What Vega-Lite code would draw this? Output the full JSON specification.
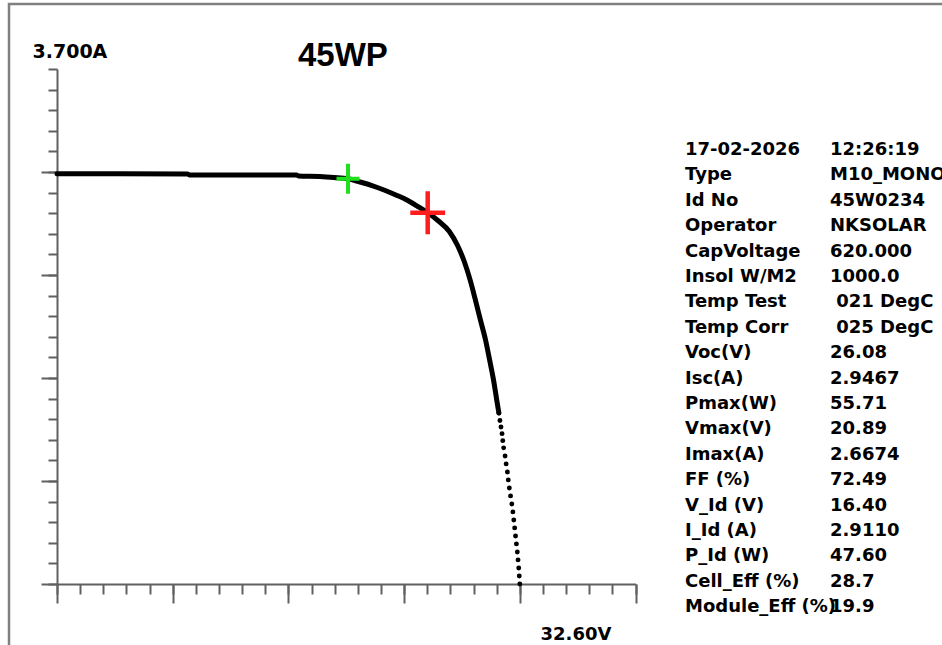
{
  "$schema": "https://vega.github.io/schema/vega-lite/v6.json",
  "width": 938,
  "height": 646,
  "autosize": "none",
  "padding": {"left": 9, "top": 4, "right": -5, "bottom": -5},
  "background": "white",
  "config": {
    "view": {"stroke": "#808080", "strokeWidth": 2.5},
    "font": "DejaVu Sans",
    "axis": {"domainColor": "#606060", "domainWidth": 2, "tickColor": "#606060", "tickWidth": 2, "grid": false, "labelColor": "black", "labelFont": "DejaVu Sans", "labelFontWeight": "bold", "labelOverlap": false, "labelFlush": false, "title": null}
  },
  "title": {"text": "45WP", "font": "Liberation Sans", "fontSize": 33, "fontWeight": "bold", "color": "black", "anchor": "start", "frame": "group", "offset": -95, "dx": 289, "baseline": "alphabetic"},
  "datasets": {
    "iv": [
      {"V": 0, "I": 2.947}, {"V": 3.5, "I": 2.947}, {"V": 7.35, "I": 2.946}, {"V": 7.45, "I": 2.939},
      {"V": 10.5, "I": 2.939}, {"V": 13.5, "I": 2.938}, {"V": 13.6, "I": 2.932}, {"V": 14.8, "I": 2.928},
      {"V": 15.6, "I": 2.921}, {"V": 16.4, "I": 2.911}, {"V": 17.07, "I": 2.888}, {"V": 17.75, "I": 2.863},
      {"V": 18.43, "I": 2.831}, {"V": 19.1, "I": 2.795}, {"V": 19.72, "I": 2.759}, {"V": 20.34, "I": 2.712},
      {"V": 20.89, "I": 2.667}, {"V": 21.5, "I": 2.608}, {"V": 22.1, "I": 2.534}, {"V": 22.58, "I": 2.43},
      {"V": 22.97, "I": 2.31}, {"V": 23.28, "I": 2.185}, {"V": 23.56, "I": 2.05}, {"V": 23.86, "I": 1.897},
      {"V": 24.15, "I": 1.753}, {"V": 24.38, "I": 1.609}, {"V": 24.6, "I": 1.466}, {"V": 24.78, "I": 1.322},
      {"V": 24.9, "I": 1.229}, {"V": 24.96, "I": 1.175}, {"V": 25.02, "I": 1.128}, {"V": 25.08, "I": 1.08},
      {"V": 25.12, "I": 1.03}, {"V": 25.17, "I": 0.978}, {"V": 25.25, "I": 0.92}, {"V": 25.31, "I": 0.863},
      {"V": 25.38, "I": 0.805}, {"V": 25.43, "I": 0.748}, {"V": 25.49, "I": 0.69}, {"V": 25.56, "I": 0.633},
      {"V": 25.63, "I": 0.575}, {"V": 25.69, "I": 0.518}, {"V": 25.74, "I": 0.46}, {"V": 25.79, "I": 0.403},
      {"V": 25.84, "I": 0.345}, {"V": 25.89, "I": 0.288}, {"V": 25.94, "I": 0.23}, {"V": 25.98, "I": 0.173},
      {"V": 26.02, "I": 0.115}, {"V": 26.05, "I": 0.058}, {"V": 26.08, "I": 0}
    ],
    "marks": [
      {"kind": "ideal", "V": 16.4, "I": 2.911},
      {"kind": "max", "V": 20.89, "I": 2.6674}
    ],
    "info": [
      {"row": 0, "label": "17-02-2026", "value": "12:26:19"},
      {"row": 1, "label": "Type", "value": "M10_MONO"},
      {"row": 2, "label": "Id No", "value": "45W0234"},
      {"row": 3, "label": "Operator", "value": "NKSOLAR"},
      {"row": 4, "label": "CapVoltage", "value": "620.000"},
      {"row": 5, "label": "Insol W/M2", "value": "1000.0"},
      {"row": 6, "label": "Temp Test", "value": "\u200b\u00a0021 DegC"},
      {"row": 7, "label": "Temp Corr", "value": "\u200b\u00a0025 DegC"},
      {"row": 8, "label": "Voc(V)", "value": "26.08"},
      {"row": 9, "label": "Isc(A)", "value": "2.9467"},
      {"row": 10, "label": "Pmax(W)", "value": "55.71"},
      {"row": 11, "label": "Vmax(V)", "value": "20.89"},
      {"row": 12, "label": "Imax(A)", "value": "2.6674"},
      {"row": 13, "label": "FF (%)", "value": "72.49"},
      {"row": 14, "label": "V_Id (V)", "value": "16.40"},
      {"row": 15, "label": "I_Id (A)", "value": "2.9110"},
      {"row": 16, "label": "P_Id (W)", "value": "47.60"},
      {"row": 17, "label": "Cell_Eff (%)", "value": "28.7"},
      {"row": 18, "label": "Module_Eff (%)", "value": "19.9"}
    ]
  },
  "layer": [
    {
      "layer": [
        {
          "data": {"name": "iv"},
          "transform": [{"filter": "datum.I >= 1.2"}],
          "mark": {"type": "line", "color": "black", "strokeWidth": 5, "strokeCap": "round", "strokeJoin": "round", "interpolate": "monotone"},
          "encoding": {
            "x": {"field": "V", "type": "quantitative",
              "scale": {"domain": [0, 32.6], "range": [48, 626.5], "nice": false, "zero": false},
              "axis": {"orient": "bottom", "offset": -66, "values": [0, 6.52, 13.04, 19.56, 26.08, 32.6], "tickSize": 19, "domain": true,
                "labelExpr": "datum.value > 32 ? '32.60V' : ''", "labelFontSize": 18, "labelAlign": "center", "labelOffset": -60, "labelPadding": 36, "labelBaseline": "alphabetic"}},
            "y": {"field": "I", "type": "quantitative",
              "scale": {"domain": [0, 3.7], "range": [580, 65], "nice": false, "zero": false},
              "axis": {"orient": "left", "offset": -48, "values": [0, 0.74, 1.48, 2.22, 2.96], "tickSize": 16, "domain": true, "labels": false}}
          }
        },
        {
          "data": {"name": "iv"},
          "transform": [{"filter": "datum.I < 1.25"}],
          "mark": {"type": "point", "shape": "circle", "filled": true, "color": "black", "size": 24, "opacity": 1},
          "encoding": {
            "x": {"field": "V", "type": "quantitative",
              "axis": {"orient": "bottom", "offset": -66, "values": [0, 1.304, 2.608, 3.912, 5.216, 6.52, 7.824, 9.128, 10.432, 11.736, 13.04, 14.344, 15.648, 16.952, 18.256, 19.56, 20.864, 22.168, 23.472, 24.776, 26.08, 27.384, 28.688, 29.992, 31.296, 32.6], "tickSize": 10, "domain": false, "labels": false}},
            "y": {"field": "I", "type": "quantitative",
              "axis": {"orient": "left", "offset": -48, "values": [0, 0.148, 0.296, 0.444, 0.592, 0.74, 0.888, 1.036, 1.184, 1.332, 1.48, 1.628, 1.776, 1.924, 2.072, 2.22, 2.368, 2.516, 2.664, 2.812, 2.96, 3.108, 3.256, 3.404, 3.552, 3.7], "tickSize": 9, "domain": false,
                "labelExpr": "datum.value > 3.6 ? '3.700A' : ''", "labelFontSize": 19, "labelAlign": "left", "labelPadding": 16, "labelOffset": -12, "labelBaseline": "alphabetic"}}
          }
        },
        {
          "data": {"name": "marks"},
          "transform": [{"filter": "datum.kind == 'ideal'"}],
          "mark": {"type": "point", "shape": "M-0.77,0H0.77M0,-1V1", "filled": false, "stroke": "#1fe01f", "strokeWidth": 4, "size": 900, "opacity": 1},
          "encoding": {
            "x": {"field": "V", "type": "quantitative", "axis": null},
            "y": {"field": "I", "type": "quantitative", "axis": null}
          }
        },
        {
          "data": {"name": "marks"},
          "transform": [{"filter": "datum.kind == 'max'"}],
          "mark": {"type": "point", "shape": "M-0.81,0H0.81M0,-1V1", "filled": false, "stroke": "#ff1c1c", "strokeWidth": 4.5, "size": 1849, "opacity": 1},
          "encoding": {
            "x": {"field": "V", "type": "quantitative", "axis": null},
            "y": {"field": "I", "type": "quantitative", "axis": null}
          }
        },
        {
          "mark": {"type": "rule", "color": "#808080", "strokeWidth": 3},
          "encoding": {
            "x": {"datum": 33.97, "type": "quantitative", "axis": null}
          }
        }
      ],
      "resolve": {"axis": {"x": "independent", "y": "independent"}}
    },
    {
      "data": {"name": "info"},
      "transform": [{"fold": ["label", "value"], "as": ["col", "txt"]}],
      "mark": {"type": "text", "align": "left", "baseline": "alphabetic", "font": "DejaVu Sans", "fontWeight": "bold", "fontSize": 18, "color": "black"},
      "encoding": {
        "x": {"field": "col", "type": "nominal", "scale": {"type": "point", "domain": ["label", "value"], "range": [676, 821], "padding": 0}, "axis": null},
        "y": {"field": "row", "type": "ordinal", "scale": {"type": "point", "range": [151, 608.3], "padding": 0}, "axis": null},
        "text": {"field": "txt"}
      }
    }
  ],
  "resolve": {"scale": {"x": "independent", "y": "independent"}, "axis": {"x": "independent", "y": "independent"}}
}
